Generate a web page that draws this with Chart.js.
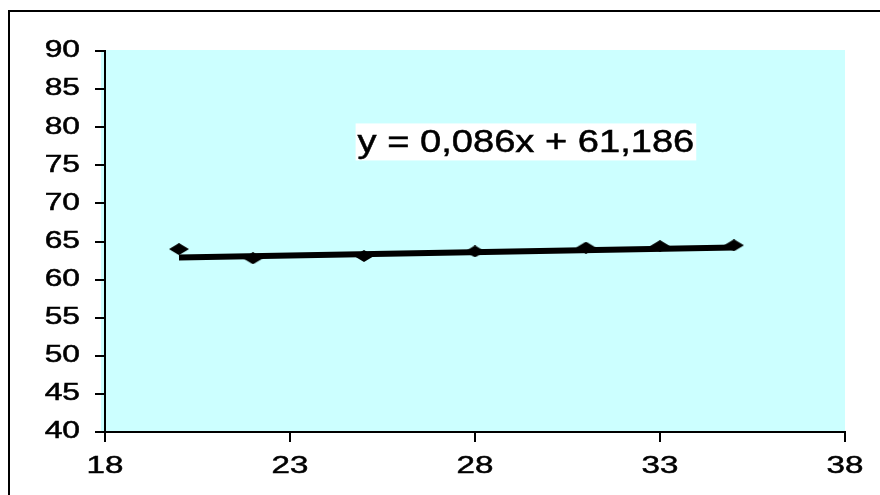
<!DOCTYPE html>
<html>
<head>
<meta charset="utf-8">
<script src="https://cdn.jsdelivr.net/npm/chart.js@4/dist/chart.umd.min.js"></script>
<style>
  html, body { margin: 0; padding: 0; background: #fff; }
  #wrap { width: 880px; height: 495px; position: relative; }
</style>
</head>
<body>
<div id="wrap"><canvas id="c" width="880" height="495"></canvas></div>
<script>
// values
const xValues = [20, 22, 25, 28, 31, 33, 35];
const yValues = [64.0, 62.8, 63.1, 63.7, 64.2, 64.4, 64.5];
const trendX = [20, 35];
const trendY = [62.9, 64.2];
const equationText = `y = 0,086x + 61,186`;
const xTicks = [18, 23, 28, 33, 38];
const yTicks = [40, 45, 50, 55, 60, 65, 70, 75, 80, 85, 90];

const FONT = `"Liberation Sans", Arial, sans-serif`;

// excel draws its text wide, so stretch every fillText horizontally
const canvas = document.getElementById(`c`);
const ctx2d = canvas.getContext(`2d`);
const rawFillText = ctx2d.fillText.bind(ctx2d);
const rawStrokeText = ctx2d.strokeText.bind(ctx2d);
ctx2d.stretch = 1.38;
ctx2d.fillText = function(text, x, y) {
  this.save();
  this.translate(x, y);
  this.scale(this.stretch, 1);
  rawFillText(text, 0, 0);
  this.strokeStyle = this.fillStyle;
  this.lineWidth = 0.5;
  rawStrokeText(text, 0, 0);
  this.restore();
};

// squashed diamond like the excel marker
function makeDiamond(w, h) {
  let cv = document.createElement(`canvas`);
  cv.width = w;
  cv.height = h;
  let g = cv.getContext(`2d`);
  g.fillStyle = `#000`;
  g.beginPath();
  g.moveTo(w / 2, 0);
  g.lineTo(w, h / 2);
  g.lineTo(w / 2, h);
  g.lineTo(0, h / 2);
  g.closePath();
  g.fill();
  return cv;
}

const chartFrame = {
  id: `chartFrame`,
  beforeDraw(chart) {
    const { ctx, chartArea: a } = chart;
    ctx.save();
    ctx.fillStyle = `#ccffff`;
    ctx.fillRect(a.left - 4, a.top - 1, a.right - a.left + 4, a.bottom - a.top + 1);
    ctx.strokeStyle = `#000`;
    ctx.lineWidth = 2;
    ctx.strokeRect(9, 11, 1000, 1000);
    ctx.restore();
  },
  afterDatasetsDraw(chart) {
    const { ctx, scales } = chart;
    ctx.save();
    ctx.font = `32px ${FONT}`;
    const k = 1.19;
    const w = ctx.measureText(equationText).width * k;
    const x = scales.x.getPixelForValue(24.8);
    const y = scales.y.getPixelForValue(78);
    ctx.fillStyle = `#fff`;
    ctx.fillRect(x - 1, y - 19, w + 4, 37);
    ctx.fillStyle = `#000`;
    ctx.textBaseline = `middle`;
    ctx.textAlign = `left`;
    const old = ctx.stretch;
    ctx.stretch = k;
    ctx.fillText(equationText, x + 1, y + 1);
    ctx.stretch = old;
    ctx.restore();
  }
};

const axisCommon = {
  type: `linear`,
  grid: { drawOnChartArea: false, drawTicks: true, tickLength: 10, color: `#000`, lineWidth: 2 },
  border: { display: true, color: `#000`, width: 2 },
  ticks: { color: `#000`, font: { family: FONT, size: 23 } }
};

new Chart(canvas, {
  type: `scatter`,
  data: {
    datasets: [
      {
        label: `trend`,
        data: trendX.map((x, i) => ({ x: x, y: trendY[i] })),
        showLine: true,
        borderColor: `#000`,
        borderWidth: 6,
        pointRadius: 0,
        order: 2
      },
      {
        label: `points`,
        data: xValues.map((x, i) => ({ x: x, y: yValues[i] })),
        pointStyle: makeDiamond(20, 12),
        pointRadius: 8,
        order: 1
      }
    ]
  },
  plugins: [chartFrame],
  options: {
    responsive: false,
    animation: false,
    layout: { padding: { left: 0, right: 35, top: 51, bottom: 0 } },
    plugins: { legend: { display: false }, tooltip: { enabled: false } },
    scales: {
      x: Object.assign({}, axisCommon, {
        min: 18, max: 38,
        afterBuildTicks: s => { s.ticks = xTicks.map(v => ({ value: v })); },
        afterFit: s => { s.height = 63; },
        ticks: Object.assign({}, axisCommon.ticks, { padding: 10, maxRotation: 0, font: { family: FONT, size: 24 } })
      }),
      y: Object.assign({}, axisCommon, {
        min: 40, max: 90,
        afterBuildTicks: s => { s.ticks = yTicks.map(v => ({ value: v })); },
        afterFit: s => { s.width = 105; },
        ticks: Object.assign({}, axisCommon.ticks, { padding: 15 })
      })
    }
  }
});
</script>
</body>
</html>
